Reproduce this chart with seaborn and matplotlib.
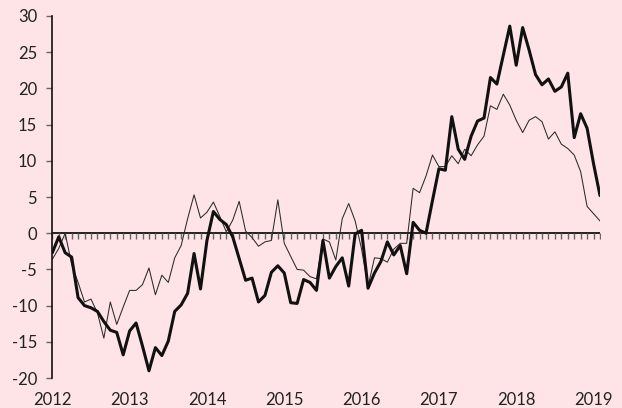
import matplotlib
matplotlib.use("Agg")
import matplotlib.pyplot as plt
import numpy as np
import pandas as pd
import seaborn as sns

# monthly series, Jan 2012 .. Feb 2019
thick = [-2.7, -0.5, -2.7, -3.3, -8.9, -10.0, -10.3, -10.8, -12.2, -13.4, -13.7, -16.8,
         -13.5, -12.4, -15.6, -19.0, -15.8, -16.9, -14.9, -10.8, -9.9, -8.3, -2.8, -7.7,
         -1.0, 3.0, 1.9, 1.2, -0.5, -3.5, -6.5, -6.2, -9.5, -8.6, -5.4, -4.5,
         -5.5, -9.6, -9.7, -6.4, -6.8, -7.9, -1.0, -6.2, -4.6, -3.4, -7.3, -0.1,
         0.4, -7.6, -5.5, -3.9, -1.2, -3.0, -1.7, -5.6, 1.5, 0.4, 0.0, 4.5,
         8.9, 8.7, 16.1, 11.6, 10.2, 13.4, 15.5, 15.9, 21.5, 20.6, 24.6, 28.6,
         23.2, 28.4, 25.3, 21.9, 20.5, 21.3, 19.6, 20.2, 22.1, 13.2, 16.5, 14.5,
         9.6, 5.2]
thin = [-3.6, -2.1, 0.0, -4.3, -6.8, -9.5, -9.1, -11.0, -14.5, -9.5, -12.6, -10.2,
        -7.9, -7.9, -7.1, -4.8, -8.5, -5.8, -6.8, -3.4, -1.7, 2.0, 5.3, 2.1,
        2.9, 4.3, 2.3, 0.2, 1.8, 4.4, 0.3, -0.6, -1.8, -1.2, -1.0, 4.6,
        -1.4, -3.2, -5.0, -5.1, -6.0, -6.3, -0.8, -1.2, -3.7, 2.0, 4.1, 1.7,
        -2.2, -7.4, -3.4, -3.5, -4.0, -2.2, -1.4, -1.4, 6.2, 5.6, 7.9, 10.8,
        9.2, 9.2, 10.7, 9.6, 11.6, 10.7, 12.2, 13.4, 17.6, 17.1, 19.2, 17.7,
        15.6, 13.9, 15.6, 16.1, 15.4, 13.0, 14.0, 12.3, 11.7, 10.8, 8.5, 3.7,
        2.7, 1.7]
years = [2012, 2013, 2014, 2015, 2016, 2017, 2018, 2019]
yticks = [-20, -15, -10, -5, 0, 5, 10, 15, 20, 25, 30]

months = np.arange(len(thick))
df = pd.DataFrame({"month": months, "thick": thick, "thin": thin})

bg = "#fee4e6"
sns.set_style("white", {"axes.facecolor": bg, "figure.facecolor": bg})
plt.rcParams["font.family"] = ["Lato", "DejaVu Sans"]
plt.rcParams["axes.unicode_minus"] = False

fig = plt.figure(figsize=(6.22, 4.08), dpi=100)
ax = fig.add_axes([0.0841, 0.0735, 0.9646 - 0.0841, 0.9608 - 0.0735])

sns.lineplot(data=df, x="month", y="thin", ax=ax, color="#2a2a2a", lw=0.75)
sns.lineplot(data=df, x="month", y="thick", ax=ax, color="#111111", lw=2.2)

# zero line with monthly ticks hanging below it
ax.axhline(0, color="#111111", lw=1.3, zorder=1)
ax.plot(months, np.zeros(len(months)), ls="none", marker=3, ms=4,
        mew=1.0, color="#666666", zorder=1)

ax.set_xlim(months[0], months[-1])
ax.set_ylim(-20, 30)
ax.set_yticks(yticks)
ax.set_xticks([12 * k for k in range(len(years))])
ax.set_xticklabels([str(y) for y in years])
ax.set_xlabel("")
ax.set_ylabel("")

for s in ["top", "right", "bottom"]:
    ax.spines[s].set_visible(False)
ax.spines["left"].set_color("#111111")
ax.spines["left"].set_linewidth(1.2)
ax.tick_params(axis="y", length=4, width=1, color="#666666", pad=7,
               labelsize=12, labelcolor="#222222", left=True)
ax.tick_params(axis="x", length=0, pad=10, labelsize=12, labelcolor="#222222")

fig.savefig("out.png", dpi=100, facecolor=bg)
